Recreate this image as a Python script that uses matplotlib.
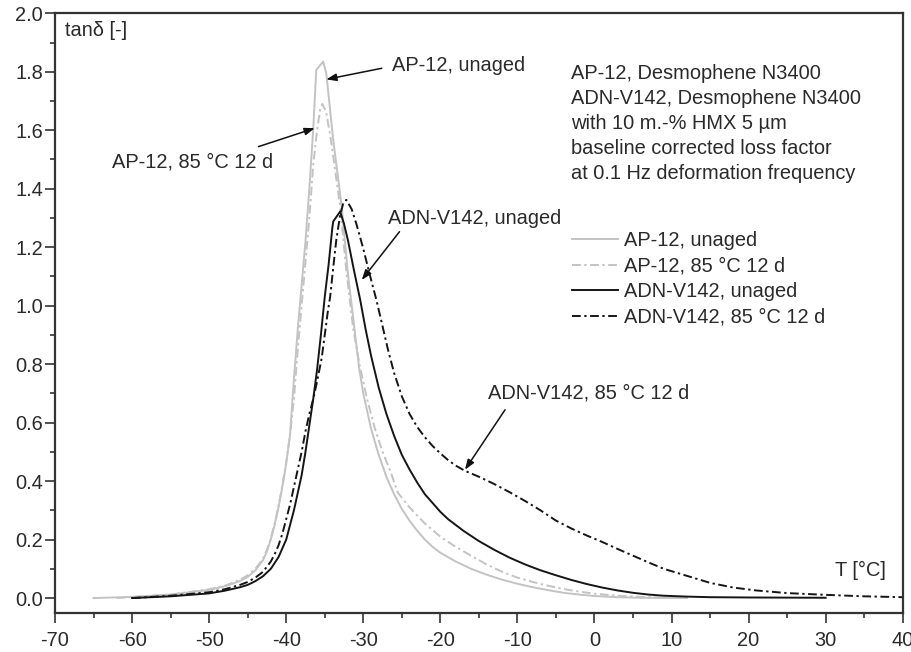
import matplotlib
matplotlib.use("Agg")
import matplotlib.pyplot as plt
from matplotlib.ticker import MultipleLocator

plt.rcParams['font.family'] = ['Liberation Sans', 'DejaVu Sans']
plt.rcParams['axes.unicode_minus'] = False

# Loss factor curves tan(delta) vs temperature T [°C]
ap_unaged_T = [-65, -60, -55, -50, -48, -46, -45, -44, -43, -42.5, -42, -41.5, -41,
               -40.5, -40, -39.5, -39, -38.5, -38, -37.5, -37, -36.5, -36.1, -35.2,
               -34.8, -33.9, -32.8, -32.0, -31.5, -31.0, -30.5, -30.0, -29.0, -28.0,
               -27.0, -26.0, -25.0, -24.0, -23.0, -22.0, -21.0, -20.0, -18.0, -16.0,
               -14.0, -12.0, -10.0, -8.0, -6.0, -4.0, -2.0, 0.0, 3.0, 6.0, 12.0]
ap_unaged_tan = [0.0, 0.004, 0.012, 0.028, 0.04, 0.058, 0.072, 0.095, 0.13, 0.16, 0.2,
                 0.25, 0.31, 0.38, 0.46, 0.56, 0.75, 0.92, 1.07, 1.22, 1.40, 1.60,
                 1.806, 1.835, 1.795, 1.567, 1.339, 1.111, 1.0, 0.89, 0.78, 0.70, 0.58,
                 0.49, 0.415, 0.355, 0.305, 0.265, 0.23, 0.20, 0.175, 0.155, 0.125,
                 0.10, 0.08, 0.063, 0.049, 0.037, 0.027, 0.018, 0.012, 0.007, 0.003,
                 0.001, 0.0]

ap_aged_T = [-62, -55, -50, -48, -46, -45, -44, -43, -42.5, -42, -41.5, -41, -40.5,
             -40, -39.5, -39, -38.5, -38, -37.5, -37, -36.5, -36, -35.6, -35.3, -34.8,
             -34.2, -33.0, -32.2, -31.3, -30.5, -29.5, -28.5, -27.5, -26.5, -25.5,
             -24.0, -22.0, -20.0, -18.0, -16.0, -14.0, -12.0, -10.0, -8.0, -6.0, -4.0,
             -2.0, 0.0, 3.0, 6.0, 9.0, 12.0]
ap_aged_tan = [0.0, 0.012, 0.03, 0.042, 0.062, 0.078, 0.10, 0.135, 0.165, 0.205, 0.255,
               0.315, 0.385, 0.465, 0.56, 0.68, 0.85, 1.0, 1.15, 1.30, 1.48, 1.60, 1.67,
               1.69, 1.66, 1.567, 1.339, 1.12, 0.92, 0.80, 0.68, 0.58, 0.50, 0.435,
               0.36, 0.31, 0.255, 0.21, 0.175, 0.145, 0.115, 0.09, 0.07, 0.055, 0.042,
               0.031, 0.022, 0.015, 0.008, 0.004, 0.001, 0.0]

adn_unaged_T = [-60, -55, -50, -48, -46, -45, -44, -43, -42, -41, -40, -39.5, -39,
                -38.5, -38, -37.5, -37, -36.5, -36, -35.5, -35, -34.5, -34.0, -33.9,
                -33.0, -32.5, -32.0, -31.2, -30.4, -29.7, -29.0, -28.0, -27.0, -26.0,
                -25.0, -24.0, -23.0, -22.0, -21.0, -20.0, -19.0, -17.0, -15.0, -13.0,
                -11.0, -9.0, -7.0, -5.0, -3.0, -1.0, 1.0, 3.0, 5.0, 7.0, 9.0, 12.0,
                15.0, 20.0, 30.0]
adn_unaged_tan = [0.0, 0.006, 0.016, 0.025, 0.037, 0.045, 0.058, 0.075, 0.10, 0.14,
                  0.20, 0.25, 0.30, 0.36, 0.42, 0.50, 0.59, 0.68, 0.78, 0.90, 1.03,
                  1.14, 1.27, 1.288, 1.322, 1.28, 1.225, 1.12, 1.02, 0.92, 0.83, 0.72,
                  0.63, 0.555, 0.49, 0.44, 0.395, 0.355, 0.325, 0.295, 0.27, 0.23,
                  0.195, 0.165, 0.138, 0.115, 0.095, 0.078, 0.062, 0.048, 0.036,
                  0.026, 0.018, 0.012, 0.008, 0.005, 0.003, 0.002, 0.001]

adn_aged_T = [-60, -55, -50, -48, -46, -45, -44, -43, -42, -41.5, -41, -40.5, -40,
              -39.5, -39, -38.5, -38, -37.5, -37, -36.5, -36, -35.4, -35.0, -34.6,
              -34.3, -33.9, -33.5, -33.0, -32.6, -32.2, -31.5, -30.9, -30.0, -29.2,
              -28.3, -27.5, -26.8, -26.0, -25.0, -24.0, -23.0, -22.0, -21.0, -20.0,
              -19.0, -18.0, -16.8, -15.0, -13.0, -11.0, -9.0, -7.0, -5.0, -3.0,
              -1.0, 1.0, 3.0, 5.0, 7.0, 9.0, 12.0, 15.0, 18.0, 21.0, 25.0, 30.0,
              35.0, 40.0]
adn_aged_tan = [0.0, 0.008, 0.02, 0.03, 0.045, 0.055, 0.07, 0.09, 0.125, 0.15, 0.18,
                0.22, 0.27, 0.32, 0.38, 0.44, 0.50, 0.57, 0.63, 0.68, 0.74, 0.82, 0.90,
                0.98, 1.03, 1.13, 1.225, 1.31, 1.35, 1.362, 1.33, 1.28, 1.195, 1.11,
                1.02, 0.93, 0.85, 0.77, 0.69, 0.63, 0.585, 0.55, 0.52, 0.495, 0.472,
                0.453, 0.435, 0.415, 0.39, 0.362, 0.332, 0.30, 0.265, 0.238, 0.214,
                0.192, 0.168, 0.145, 0.122, 0.10, 0.076, 0.052, 0.036, 0.026, 0.017,
                0.011, 0.006, 0.003]

series_labels = ['AP-12, unaged', 'AP-12, 85 °C 12 d',
                 'ADN-V142, unaged', 'ADN-V142, 85 °C 12 d']

info_lines = ['AP-12, Desmophene N3400',
              'ADN-V142, Desmophene N3400',
              'with 10 m.-% HMX 5 \u00b5m',
              'baseline corrected loss factor',
              'at 0.1 Hz deformation frequency']

x_ticks = list(range(-70, 41, 10))
y_ticks = [0.0, 0.2, 0.4, 0.6, 0.8, 1.0, 1.2, 1.4, 1.6, 1.8, 2.0]

TXT = '#2a2a2a'
GREY = '#c3c3c3'
BLACK = '#151515'
FS = 14.4
dashdot = (4.5, 1.8, 1.2, 1.8)

fig = plt.figure(figsize=(9.11, 6.52), dpi=100)
ax = fig.add_axes([0.0604, 0.0603, 0.9305, 0.9193])

ax.plot(ap_unaged_T, ap_unaged_tan, color=GREY, lw=1.4, label=series_labels[0])
ax.plot(ap_aged_T, ap_aged_tan, color=GREY, lw=1.4, dashes=dashdot, label=series_labels[1])
ax.plot(adn_unaged_T, adn_unaged_tan, color=BLACK, lw=1.4, label=series_labels[2])
ax.plot(adn_aged_T, adn_aged_tan, color=BLACK, lw=1.4, dashes=dashdot, label=series_labels[3])

ax.set_xlim(-70, 40)
ax.set_ylim(-0.05, 2.0)
ax.set_xticks(x_ticks)
ax.set_yticks(y_ticks)
ax.set_yticklabels([f'{v:.1f}' for v in y_ticks])
ax.xaxis.set_minor_locator(MultipleLocator(5))
ax.yaxis.set_minor_locator(MultipleLocator(0.1))
ax.tick_params(which='major', direction='out', length=7.2, width=1.2, color='#333333',
               labelsize=FS, labelcolor=TXT)
ax.tick_params(which='minor', direction='out', length=3.6, width=1.2, color='#333333')
ax.tick_params(axis='y', pad=1.5)
ax.tick_params(axis='x', pad=6)
for s in ax.spines.values():
    s.set_linewidth(1.6)
    s.set_color('#333333')

# axis labels placed inside the frame
ax.text(-68.7, 1.94, 'tan\u03b4 [-]', fontsize=FS, color=TXT, va='center', ha='left')
ax.text(31.2, 0.096, 'T [°C]', fontsize=FS, color=TXT, va='center', ha='left')

# description block
ax.text(-3.0, 1.828, '\n'.join(info_lines), fontsize=FS, color=TXT, va='top', ha='left',
        linespacing=1.40)

# curve annotations
arrow_kw = dict(arrowstyle='-|>,head_length=0.6,head_width=0.22', color='#111111',
                lw=1.1, shrinkA=0, shrinkB=0)
notes = [
    (series_labels[0], (-26.3, 1.823), 'left', (-27.6, 1.812), (-34.8, 1.774)),
    (series_labels[1], (-41.7, 1.493), 'right', (-43.6, 1.544), (-36.3, 1.607)),
    (series_labels[2], (-26.8, 1.299), 'left', (-25.3, 1.253), (-30.2, 1.088)),
    (series_labels[3], (-13.8, 0.701), 'left', (-11.6, 0.644), (-16.8, 0.439)),
]
for label, pos, ha, tail, head in notes:
    ax.text(pos[0], pos[1], label, fontsize=FS, color=TXT, ha=ha, va='center')
    ax.annotate('', xy=head, xytext=tail, arrowprops=arrow_kw)

leg = ax.legend(loc='upper left', bbox_to_anchor=(0.6103, 0.636), frameon=False,
                fontsize=FS, handlelength=2.3, handletextpad=0.3, labelspacing=0.32,
                borderpad=0, borderaxespad=0)
for t in leg.get_texts():
    t.set_color(TXT)

fig.savefig('out.png', dpi=100)
